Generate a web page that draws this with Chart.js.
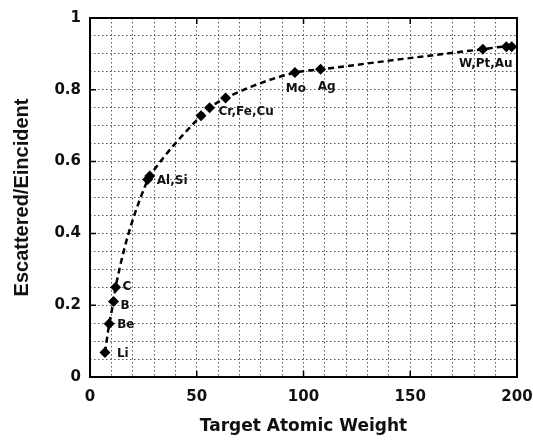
<!DOCTYPE html>
<html>
<head>
<meta charset="utf-8">
<script src="https://cdn.jsdelivr.net/npm/chart.js@4"></script>
<style>
    html, body { margin: 0; padding: 0; background: #fff; }
    #chart { display: block; }
</style>
</head>
<body>
<canvas id="chart" width="533" height="441"></canvas>
<script>
const elements = ['Li', 'Be', 'B', 'C', 'Al', 'Si', 'Cr', 'Fe', 'Cu', 'Mo', 'Ag', 'W', 'Pt', 'Au'];
const atomicWeight = [7, 9, 11, 12, 27, 28, 52, 56, 63.5, 96, 108, 184, 195, 197.5];
const energyRatio = [0.068, 0.148, 0.21, 0.25, 0.55, 0.56, 0.728, 0.75, 0.777, 0.848, 0.857, 0.913, 0.92, 0.92];

// text shown beside the points, keyed by the element it sits next to
const groupLabels = ['Li', 'Be', 'B', 'C', 'Al,Si', 'Cr,Fe,Cu', 'Mo', 'Ag', 'W,Pt,Au'];
const groupAnchor = ['Li', 'Be', 'B', 'C', 'Si', 'Fe', 'Mo', 'Ag', 'Au'];

const xTicks = [0, 50, 100, 150, 200];
const yTicks = [0, 0.2, 0.4, 0.6, 0.8, 1];

const points = atomicWeight.map((x, i) => ({ x: x, y: energyRatio[i] }));

// where each label goes relative to its anchor point
const labelPlacement = {
    'Li': { dx: 12, dy: 1, align: 'left' },
    'Be': { dx: 8, dy: 1, align: 'left' },
    'B': { dx: 7, dy: 4, align: 'left' },
    'C': { dx: 7, dy: 0, align: 'left' },
    'Al,Si': { dx: 7, dy: 5, align: 'left' },
    'Cr,Fe,Cu': { dx: 9, dy: 4, align: 'left' },
    'Mo': { dx: 1, dy: 16, align: 'center' },
    'Ag': { dx: 6, dy: 18, align: 'center' },
    'W,Pt,Au': { dx: 1, dy: 17, align: 'right' }
};

const pointLabels = {
    id: 'pointLabels',
    afterDatasetsDraw(chart) {
        const ctx = chart.ctx;
        const xs = chart.scales.x, ys = chart.scales.y;
        ctx.save();
        ctx.font = 'bold 12px "DejaVu Sans"';
        ctx.fillStyle = '#111';
        ctx.textBaseline = 'middle';
        groupLabels.forEach((txt, i) => {
            const k = elements.indexOf(groupAnchor[i]);
            const p = labelPlacement[txt];
            ctx.textAlign = p.align;
            ctx.fillText(txt, xs.getPixelForValue(atomicWeight[k]) + p.dx, ys.getPixelForValue(energyRatio[k]) + p.dy);
        });
        ctx.restore();
    }
};

const frame = {
    id: 'frame',
    beforeDraw(chart) {
        const ctx = chart.ctx;
        ctx.save();
        ctx.fillStyle = '#fff';
        ctx.fillRect(0, 0, chart.width, chart.height);
        ctx.restore();
    },
    afterDraw(chart) {
        const a = chart.chartArea;
        const ctx = chart.ctx;
        ctx.save();
        ctx.strokeStyle = '#000';
        ctx.lineWidth = 2;
        ctx.strokeRect(a.left, a.top, a.right - a.left, a.bottom - a.top);
        // short inward ticks at the labelled values
        ctx.lineWidth = 1.5;
        ctx.beginPath();
        xTicks.forEach(v => {
            const px = chart.scales.x.getPixelForValue(v);
            ctx.moveTo(px, a.bottom); ctx.lineTo(px, a.bottom - 6);
            ctx.moveTo(px, a.top); ctx.lineTo(px, a.top + 6);
        });
        yTicks.forEach(v => {
            const py = chart.scales.y.getPixelForValue(v);
            ctx.moveTo(a.left, py); ctx.lineTo(a.left + 6, py);
            ctx.moveTo(a.right, py); ctx.lineTo(a.right - 6, py);
        });
        ctx.stroke();
        ctx.restore();
    }
};

function isMajor(v, list) {
    return list.some(t => Math.abs(t - v) < 1e-6);
}

new Chart(document.getElementById('chart'), {
    type: 'scatter',
    data: {
        datasets: [{
            label: 'E ratio',
            data: points,
            showLine: true,
            cubicInterpolationMode: 'monotone',
            borderColor: '#000',
            borderWidth: 2.5,
            borderDash: [6, 4],
            backgroundColor: '#000',
            pointStyle: 'rectRot',
            pointRadius: 5.5,
            pointBorderWidth: 0
        }]
    },
    options: {
        responsive: false,
        animation: false,
        layout: { padding: { top: 17, right: 0, left: 6, bottom: 0 } },
        plugins: {
            legend: { display: false },
            tooltip: { enabled: false }
        },
        scales: {
            x: {
                type: 'linear',
                min: 0,
                max: 200,
                afterFit: s => { s.height = 64; s.paddingRight = 16; s.paddingLeft = 0; },
                ticks: {
                    stepSize: 10,
                    autoSkip: false,
                    maxRotation: 0,
                    padding: 11,
                    color: '#111',
                    font: { family: 'DejaVu Sans', size: 15, weight: 'bold' },
                    callback: v => isMajor(v, xTicks) ? String(v) : ''
                },
                grid: { color: '#555', lineWidth: 1, drawTicks: false },
                border: { display: false, dash: [1.5, 2.5] },
                title: {
                    display: true,
                    text: 'Target Atomic Weight',
                    color: '#111',
                    font: { family: 'DejaVu Sans', size: 17, weight: 'bold' },
                    padding: { top: 11 }
                }
            },
            y: {
                min: 0,
                max: 1,
                afterFit: s => { s.width = 84; },
                ticks: {
                    stepSize: 0.05,
                    autoSkip: false,
                    padding: 9,
                    color: '#111',
                    font: { family: 'DejaVu Sans', size: 15, weight: 'bold' },
                    callback: v => isMajor(v, yTicks) ? String(+v.toFixed(1)) : ''
                },
                grid: { color: '#555', lineWidth: 1, drawTicks: false },
                border: { display: false, dash: [1.5, 2.5] },
                title: {
                    display: true,
                    text: 'Escattered/Eincident',
                    color: '#111',
                    font: { family: 'Liberation Sans', size: 20, weight: 'bold' },
                    padding: { bottom: 4 }
                }
            }
        }
    },
    plugins: [frame, pointLabels]
});
</script>
</body>
</html>
